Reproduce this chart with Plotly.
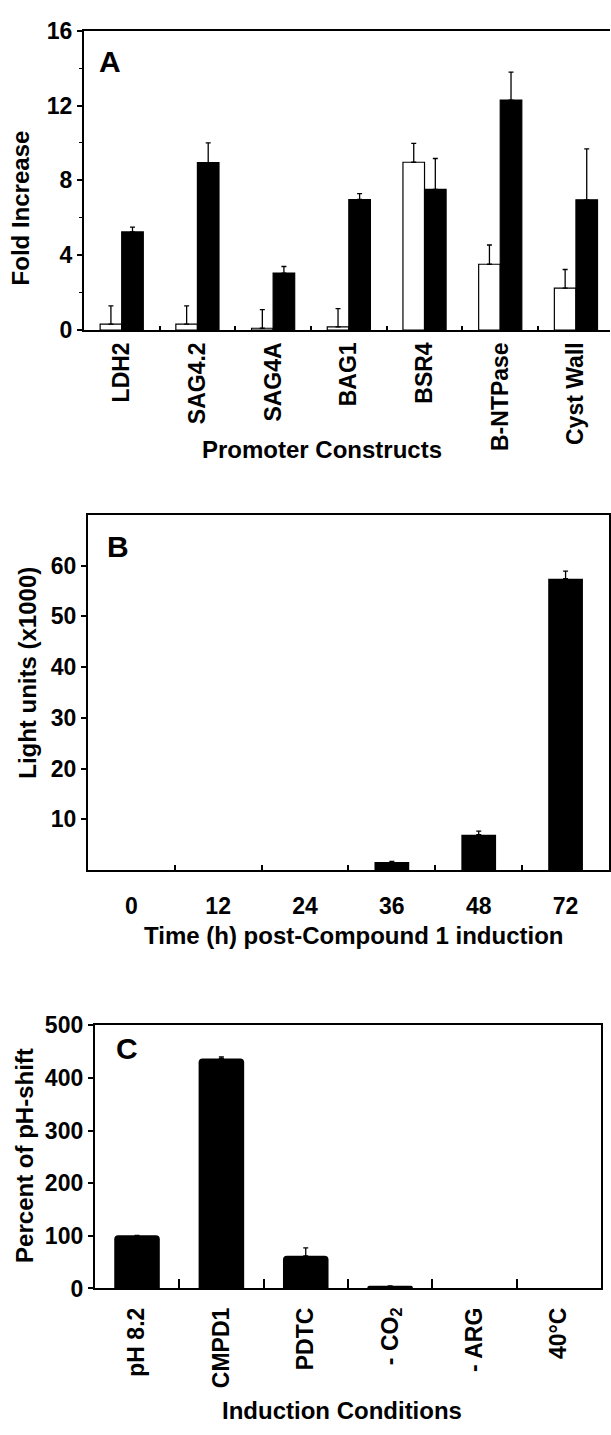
import plotly.graph_objects as go

W, H = 611, 1435
FONT = "Liberation Sans, Arial, Helvetica, sans-serif"

# ---------------- Data ----------------
constructs = ["LDH2", "SAG4.2", "SAG4A", "BAG1", "BSR4", "B-NTPase", "Cyst Wall"]
open_vals = [0.32, 0.32, 0.10, 0.17, 8.97, 3.52, 2.25]
open_err = [0.98, 0.98, 1.00, 0.98, 1.01, 1.03, 0.99]
filled_vals = [5.25, 8.95, 3.05, 6.98, 7.52, 12.29, 6.96]
filled_err = [0.25, 1.05, 0.35, 0.31, 1.65, 1.50, 2.72]

times = ["0", "12", "24", "36", "48", "72"]
light_vals = [0, 0, 0, 1.6, 7.0, 57.4]
light_err = [0, 0, 0, 0.15, 0.7, 1.5]

conditions = ["pH 8.2", "CMPD1", "PDTC", "- CO<sub>2</sub>", "- ARG", "40°C"]
pct_vals = [101, 437, 62, 5, 0, 0]
pct_err = [0, 3, 15, 0, 0, 0]


def xd(l, r):
    return [l / W, r / W]


def yd(t, b):
    return [1 - b / H, 1 - t / H]


def px(x):
    return x / W


def py(y):
    return 1 - y / H


def err(arr):
    return dict(type="data", array=arr, arrayminus=[0] * len(arr), symmetric=False,
                color="black", thickness=1.3, width=2.5, visible=True)


def nonzero(vals):
    # zero-height bars draw nothing; skip them so no stray error caps appear at the axis
    return [v if v else None for v in vals]


fig = go.Figure()

# Panel A
fig.add_trace(go.Bar(x=constructs, y=open_vals, width=0.285, offset=-0.285,
                     marker=dict(color="white", line=dict(color="black", width=1.2)),
                     error_y=err(open_err), xaxis="x", yaxis="y", showlegend=False))
fig.add_trace(go.Bar(x=constructs, y=filled_vals, width=0.285, offset=0,
                     marker=dict(color="black", line=dict(color="black", width=1.2)),
                     error_y=err(filled_err), xaxis="x", yaxis="y", showlegend=False))

# Panel B
fig.add_trace(go.Bar(x=times, y=nonzero(light_vals), width=0.40,
                     marker=dict(color="black", line=dict(width=0)),
                     error_y=err(light_err), xaxis="x2", yaxis="y2", showlegend=False))

# Panel C
fig.add_trace(go.Bar(x=conditions, y=nonzero(pct_vals), width=0.54,
                     marker=dict(color="black", line=dict(width=0), cornerradius=4),
                     error_y=err(pct_err), xaxis="x3", yaxis="y3", showlegend=False))

tickfont = dict(family=FONT, size=23, color="black", weight="bold")

fig.update_layout(
    width=W, height=H, margin=dict(l=0, r=0, t=0, b=0),
    paper_bgcolor="white", plot_bgcolor="white",
    barmode="overlay", font=dict(family=FONT, color="black"),
    xaxis=dict(domain=xd(84, 611), anchor="y", type="category", range=[-0.5, 6.45],
               categoryorder="array", categoryarray=constructs,
               showline=True, linecolor="black", linewidth=2, mirror=True,
               ticks="inside", tickson="boundaries", ticklen=4, tickwidth=1.5, tickcolor="black",
               tickangle=-90, tickfont=tickfont, showgrid=False, zeroline=False,
               ticklabelstandoff=1),
    yaxis=dict(domain=yd(18, 323), anchor="x", range=[0, 16], dtick=4, tick0=0,
               showline=True, linecolor="black", linewidth=2, mirror=False,
               ticks="outside", ticklen=5, tickwidth=1.5, tickcolor="black",
               minor=dict(dtick=2, ticks="outside", ticklen=3, tickwidth=1.2, tickcolor="black"),
               tickfont=tickfont, showgrid=False, zeroline=False),
    xaxis2=dict(domain=xd(88, 610), anchor="y2", type="category", range=[-0.5, 5.5],
                categoryorder="array", categoryarray=times,
                showline=True, linecolor="black", linewidth=2, mirror=True,
                ticks="inside", tickson="boundaries", ticklen=5, tickwidth=1.5, tickcolor="black",
                tickfont=tickfont, showgrid=False, zeroline=False, ticklabelstandoff=14),
    yaxis2=dict(domain=yd(511, 873), anchor="x2", range=[0, 70],
                tickmode="array", tickvals=[10, 20, 30, 40, 50, 60],
                showline=True, linecolor="black", linewidth=2, mirror=True,
                ticks="outside", ticklen=5, tickwidth=1.5, tickcolor="black",
                tickfont=tickfont, showgrid=False, zeroline=False),
    xaxis3=dict(domain=xd(95, 602), anchor="y3", type="category", range=[-0.5, 5.5],
                categoryorder="array", categoryarray=conditions,
                showline=True, linecolor="black", linewidth=2, mirror=True,
                ticks="inside", tickson="boundaries", ticklen=9, tickwidth=1.5, tickcolor="black",
                tickangle=-90, tickfont=tickfont, showgrid=False, zeroline=False,
                ticklabelstandoff=8),
    yaxis3=dict(domain=yd(1031, 1299), anchor="x3", range=[0, 500], dtick=100, tick0=0,
                showline=True, linecolor="black", linewidth=2, mirror=True,
                ticks="outside", ticklen=5, tickwidth=1.5, tickcolor="black",
                tickfont=tickfont, showgrid=False, zeroline=False),
)

titlefont = dict(family=FONT, size=24, color="black", weight="bold")
letterfont = dict(family=FONT, size=30, color="black", weight="bold")

annots = [
    # panel letters
    dict(text="A", x=px(110), y=py(49), font=letterfont),
    dict(text="B", x=px(118), y=py(543), font=letterfont),
    dict(text="C", x=px(127), y=py(1055), font=letterfont),
    # x titles
    dict(text="Promoter Constructs", x=px(323), y=py(445), font=titlefont),
    dict(text="Time (h) post-Compound 1 induction", x=px(355), y=py(940), font=titlefont),
    dict(text="Induction Conditions", x=px(343), y=py(1423), font=titlefont),
    # y titles
    dict(text="Fold Increase", x=px(20), y=py(198), font=titlefont, textangle=-90),
    dict(text="Light units (x1000)", x=px(28), y=py(672), font=titlefont, textangle=-90),
    dict(text="Percent of pH-shift", x=px(25), y=py(1163), font=titlefont, textangle=-90),
]
for a in annots:
    fig.add_annotation(xref="paper", yref="paper", showarrow=False,
                       xanchor="center", yanchor="middle", **a)

fig.write_html("out.html")
